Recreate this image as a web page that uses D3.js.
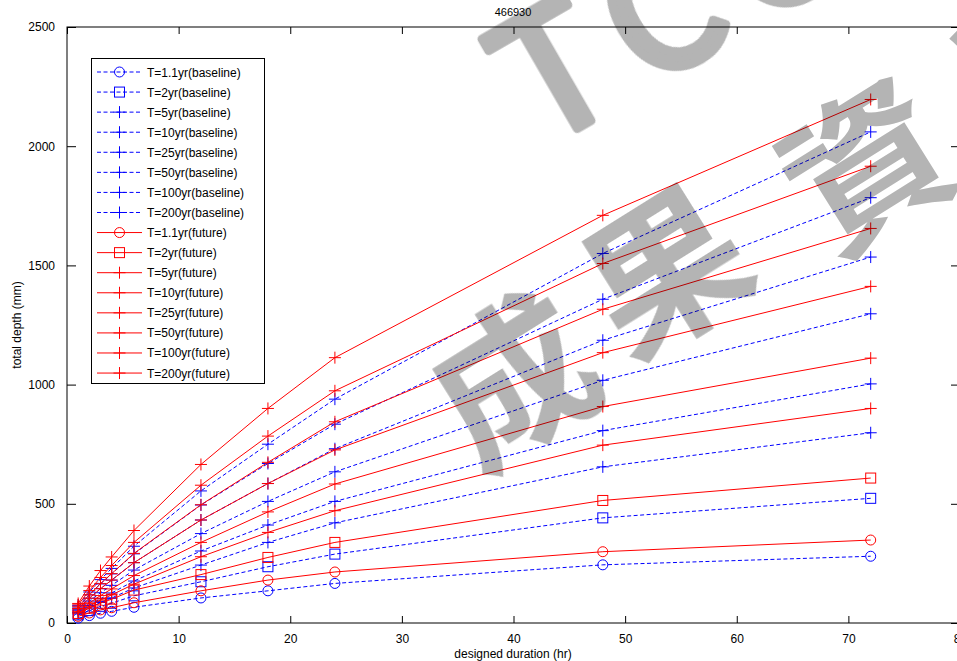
<!DOCTYPE html>
<html>
<head>
<meta charset="utf-8">
<script src="https://cdn.jsdelivr.net/npm/d3@7"></script>
<style>
  body { margin: 0; background: #fff; }
  svg { display: block; font-family: "Liberation Sans", Arial, sans-serif; }
</style>
</head>
<body>
<div id="chart"></div>
<script>
// durations (hr)
const durations = [1, 2, 3, 4, 6, 12, 18, 24, 48, 72];

// baseline depths (mm)
const base1_1 = [20, 31, 41, 49, 66, 105, 135, 166, 244, 280];
const base2   = [34, 52, 70, 83, 114, 173, 236, 289, 441, 523];
const base5   = [38, 63, 86, 105, 147, 243, 338, 420, 655, 798];
const base10  = [44, 74, 102, 126, 176, 302, 411, 510, 807, 1003];
const base25  = [54, 92, 127, 158, 222, 375, 510, 634, 1018, 1297];
const base50  = [60, 104, 144, 180, 253, 432, 585, 731, 1186, 1535];
const base100 = [67, 118, 164, 206, 290, 495, 669, 834, 1358, 1784];
const base200 = [74, 130, 182, 229, 322, 554, 750, 939, 1550, 2060];

// future depths (mm)
const fut1_1 = [28, 42, 55, 64, 85, 135, 180, 214, 299, 348];
const fut2   = [40, 62, 83, 100, 138, 203, 275, 338, 514, 608];
const fut5   = [42, 70, 96, 118, 163, 278, 380, 471, 746, 900];
const fut10  = [49, 84, 115, 143, 199, 338, 466, 583, 908, 1111];
const fut25  = [60, 104, 144, 180, 253, 432, 585, 726, 1134, 1412];
const fut50  = [68, 118, 165, 207, 292, 496, 674, 844, 1316, 1655];
const fut100 = [76, 136, 191, 241, 338, 578, 784, 974, 1508, 1916];
const fut200 = [82, 155, 220, 277, 388, 665, 900, 1113, 1710, 2196];

const periods = ["1.1", "2", "5", "10", "25", "50", "100", "200"];
const markers = ["circle", "square", "plus", "plus", "plus", "plus", "plus", "plus"];
const xTicks = [0, 10, 20, 30, 40, 50, 60, 70, 80];
const yTicks = [0, 500, 1000, 1500, 2000, 2500];

const baseSets = [base1_1, base2, base5, base10, base25, base50, base100, base200];
const futSets = [fut1_1, fut2, fut5, fut10, fut25, fut50, fut100, fut200];

const series = [];
baseSets.forEach((v, i) => series.push({
  label: "T=" + periods[i] + "yr(baseline)", values: v, color: "#0000ff", dash: "4,2.5", marker: markers[i]
}));
futSets.forEach((v, i) => series.push({
  label: "T=" + periods[i] + "yr(future)", values: v, color: "#ff0000", dash: null, marker: markers[i]
}));

const W = 957, H = 661;
const svg = d3.select("#chart").append("svg").attr("width", W).attr("height", H);

const x = d3.scaleLinear().domain([0, 80]).range([67, 960]);
const y = d3.scaleLinear().domain([0, 2500]).range([623, 27]);
const fmt = d3.format("d");

// axes box + ticks (MATLAB style, ticks inside, on all sides)
const axisG = svg.append("g");
axisG.append("rect")
  .attr("x", x(0)).attr("y", y(2500))
  .attr("width", x(80) - x(0)).attr("height", y(0) - y(2500))
  .attr("fill", "none").attr("stroke", "#000").attr("stroke-width", 1);

axisG.append("g").attr("transform", `translate(0,${y(0)})`)
  .call(d3.axisBottom(x).tickValues(xTicks).tickFormat(fmt).tickSizeInner(-7).tickSizeOuter(0).tickPadding(11))
  .call(g => g.select(".domain").remove())
  .call(g => g.selectAll("text").style("font-size", "12px").attr("fill", "#000"));
axisG.append("g").attr("transform", `translate(0,${y(2500)})`)
  .call(d3.axisTop(x).tickValues(xTicks).tickSizeInner(-7).tickSizeOuter(0).tickFormat(""))
  .call(g => g.select(".domain").remove());
axisG.append("g").attr("transform", `translate(${x(0)},0)`)
  .call(d3.axisLeft(y).tickValues(yTicks).tickFormat(fmt).tickSizeInner(-9).tickSizeOuter(0).tickPadding(12))
  .call(g => g.select(".domain").remove())
  .call(g => g.selectAll("text").style("font-size", "12px").attr("fill", "#000"));
axisG.append("g").attr("transform", `translate(${x(80)},0)`)
  .call(d3.axisRight(y).tickValues(yTicks).tickSizeInner(-9).tickSizeOuter(0).tickFormat(""))
  .call(g => g.select(".domain").remove());

// marker drawing
function drawMarker(g, type, cx, cy, color) {
  if (type === "circle") {
    g.append("circle").attr("cx", cx).attr("cy", cy).attr("r", 5)
      .attr("fill", "none").attr("stroke", color).attr("stroke-width", 1);
  } else if (type === "square") {
    g.append("rect").attr("x", cx - 5).attr("y", cy - 5).attr("width", 10).attr("height", 10)
      .attr("fill", "none").attr("stroke", color).attr("stroke-width", 1);
  } else {
    g.append("path").attr("d", `M${cx - 6},${cy}H${cx + 6}M${cx},${cy - 6}V${cy + 6}`)
      .attr("fill", "none").attr("stroke", color).attr("stroke-width", 1);
  }
}

const line = d3.line().x((d, i) => x(durations[i])).y(d => y(d));
const plot = svg.append("g");
series.forEach(s => {
  const g = plot.append("g");
  g.append("path").datum(s.values)
    .attr("d", line)
    .attr("fill", "none")
    .attr("stroke", s.color)
    .attr("stroke-width", 1)
    .attr("stroke-dasharray", s.dash);
  s.values.forEach((v, i) => drawMarker(g, s.marker, x(durations[i]), y(v), s.color));
});

// title & labels
svg.append("text").attr("x", 513).attr("y", 16).attr("text-anchor", "middle")
  .style("font-size", "11px").text("466930");
svg.append("text").attr("x", 513).attr("y", 658).attr("text-anchor", "middle")
  .style("font-size", "12px").text("designed duration (hr)");
svg.append("text").attr("transform", "translate(21,325) rotate(-90)").attr("text-anchor", "middle")
  .style("font-size", "12px").text("total depth (mm)");

// legend
const lg = svg.append("g");
lg.append("rect").attr("x", 91.5).attr("y", 58.5).attr("width", 173).attr("height", 325)
  .attr("fill", "#fff").attr("stroke", "#000").attr("stroke-width", 1);
series.forEach((s, i) => {
  const ly = 72 + i * 20.07;
  lg.append("line").attr("x1", 97).attr("x2", 142).attr("y1", ly).attr("y2", ly)
    .attr("stroke", s.color).attr("stroke-width", 1).attr("stroke-dasharray", s.dash);
  drawMarker(lg, s.marker, 119.5, ly, s.color);
  lg.append("text").attr("x", 147).attr("y", ly + 4.5).style("font-size", "12px").attr("fill", "#000")
    .text(s.label);
});

// watermark
const wm = svg.append("g").style("mix-blend-mode", "multiply")
  .attr("fill", "#b4b4b4").style("font-family", "'Noto Sans CJK TC', sans-serif");
wm.append("text").attr("transform", "translate(540,150) rotate(-30)")
  .attr("stroke", "#b4b4b4").attr("stroke-width", 9).attr("stroke-linejoin", "round")
  .style("font-size", "170px").style("letter-spacing", "24px").text("TCCIP");
const wmChars = ["成", "果", "資", "料"];
const wmPos = [[508, 372], [660, 262], [862, 158], [1040, 44]];
wmChars.forEach((c, i) => {
  wm.append("text")
    .attr("transform", `translate(${wmPos[i][0]},${wmPos[i][1]}) rotate(-32)`)
    .attr("text-anchor", "middle").attr("dominant-baseline", "central")
    .style("font-weight", "bold")
    .style("font-size", "160px").text(c);
});
</script>
</body>
</html>
